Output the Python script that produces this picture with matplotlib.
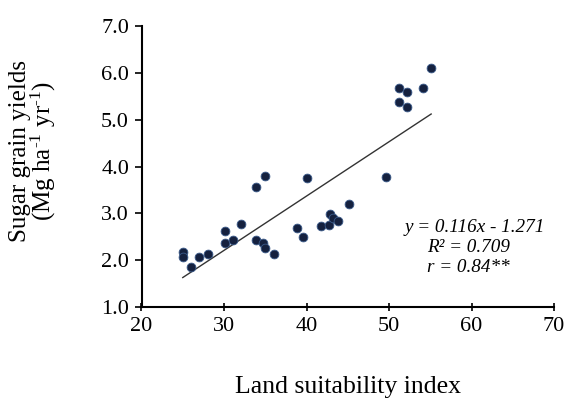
import numpy as np
import matplotlib
matplotlib.use("Agg")
import matplotlib.pyplot as plt

plt.rcParams['font.family'] = ['Liberation Serif', 'DejaVu Serif']
plt.rcParams['mathtext.fontset'] = 'custom'
plt.rcParams['mathtext.rm'] = 'Liberation Serif'
plt.rcParams['mathtext.it'] = 'Liberation Serif:italic'

# land suitability index vs sugar grain yield
lsi = [25.0, 25.0, 26.0, 27.0, 28.0, 30.1, 30.1, 31.1, 32.1, 33.9, 35.0,
       33.9, 34.7, 35.0, 36.0, 38.8, 39.6, 40.1, 41.7, 42.7, 42.9, 43.2,
       43.8, 45.2, 49.6, 51.2, 51.2, 52.2, 52.2, 54.1, 55.1]
yld = [2.17, 2.07, 1.86, 2.07, 2.13, 2.63, 2.37, 2.42, 2.77, 3.57, 3.80,
       2.42, 2.37, 2.25, 2.13, 2.68, 2.50, 3.75, 2.72, 2.75, 2.98, 2.90,
       2.84, 3.19, 3.78, 5.67, 5.37, 5.59, 5.28, 5.67, 6.10]

slope = 0.116
intercept = -1.271
x_ticks = [20, 30, 40, 50, 60, 70]
y_ticks = [1.0, 2.0, 3.0, 4.0, 5.0, 6.0, 7.0]

fig = plt.figure(figsize=(5.66, 4.0), dpi=100)
ax = fig.add_axes([0.250, 0.2325, 0.729, 0.7025])

ax.scatter(lsi, yld, s=40, color='#15213f', edgecolors='#3a5a8a', linewidths=0.6, zorder=3)

xl = np.array([min(lsi), max(lsi)])
ax.plot(xl, slope * xl + intercept, color='#333333', lw=1.0)

ax.set_xlim(20, 70)
ax.set_ylim(1.0, 7.0)
ax.set_xticks(x_ticks)
ax.set_yticks(y_ticks)
ax.set_yticklabels(['%.1f' % v for v in y_ticks])
ax.spines['top'].set_visible(False)
ax.spines['right'].set_visible(False)
ax.spines['left'].set_linewidth(1.5)
ax.spines['bottom'].set_linewidth(1.5)
ax.tick_params(axis='x', direction='inout', length=6, width=1.2, labelsize=16, pad=4)
ax.tick_params(axis='y', direction='out', length=5, width=1.2, labelsize=16, pad=4)

ax.set_xlabel('Land suitability index', fontsize=18.5)
ax.xaxis.label.set_va('center')
ax.xaxis.set_label_coords(0.5, -0.285)
ax.set_ylabel('Sugar grain yields\n(Mg ha$^{\\text{-}1}$ yr$^{\\text{-}1}$)', fontsize=18,
              linespacing=0.9)
ax.yaxis.label.set_va('center')
ax.yaxis.set_label_coords(-0.262, 0.555)

ax.text(51.9, 2.69, 'y = 0.116x - 1.271', fontsize=13.8, style='italic', ha='left', va='center')
ax.text(54.6, 2.26, 'R² = 0.709', fontsize=13.8, style='italic', ha='left', va='center')
ax.text(54.6, 1.85, 'r = 0.84**', fontsize=13.8, style='italic', ha='left', va='center')

fig.savefig('out.png', dpi=100)
